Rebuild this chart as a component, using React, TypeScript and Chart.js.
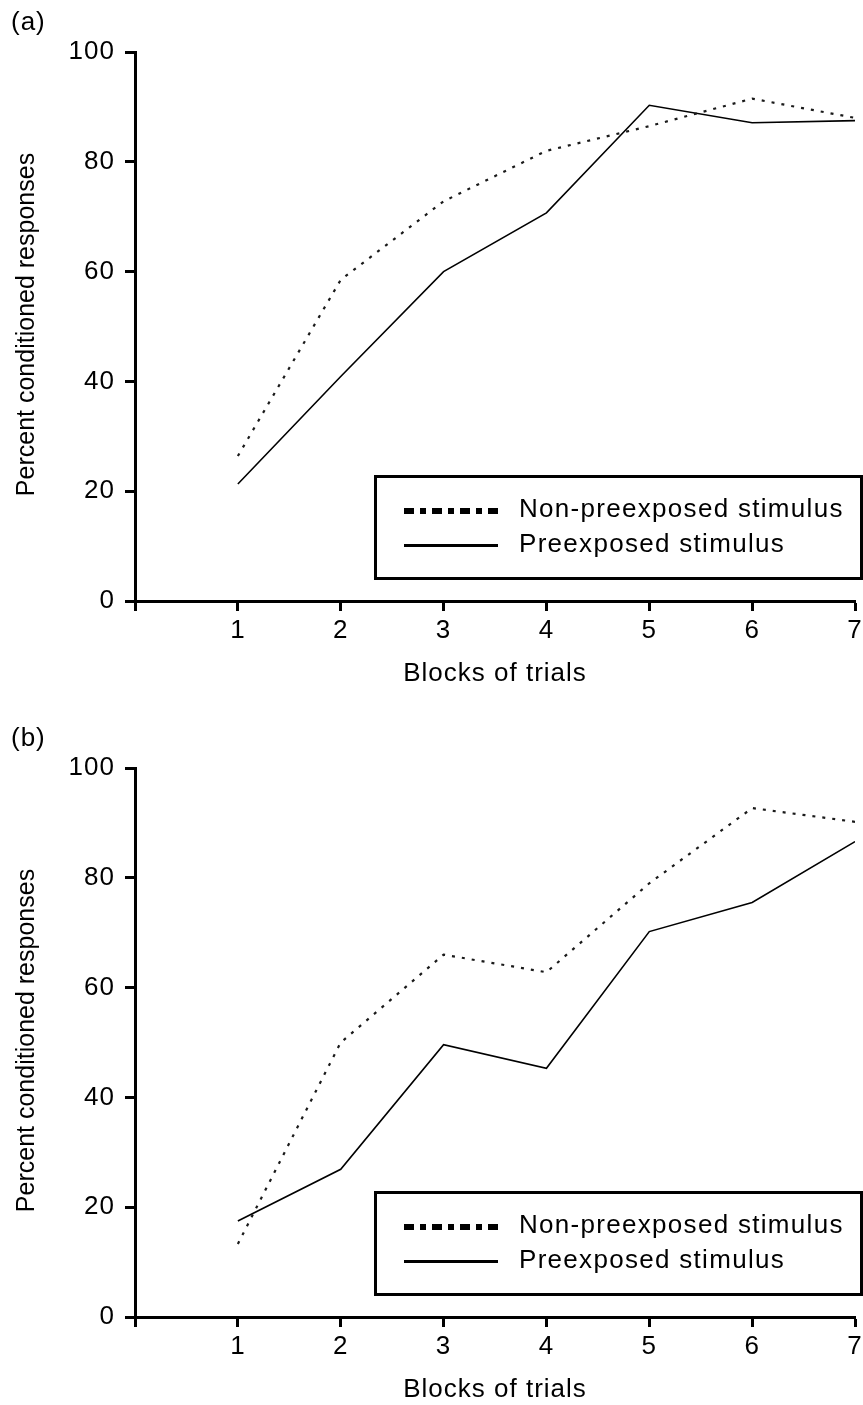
import React, { useEffect, useRef } from "react";
import { Chart, registerables } from "chart.js";

Chart.register(...registerables);

const FONT = '"Liberation Sans", Arial, Helvetica, sans-serif';

// ---- data ----
const blocks = [1, 2, 3, 4, 5, 6, 7];
const xTicks = [0, 1, 2, 3, 4, 5, 6, 7];
const yTicks = [0, 20, 40, 60, 80, 100];
const seriesNames = ["Non-preexposed stimulus", "Preexposed stimulus"];
const xTitle = "Blocks of trials";
const yTitle = "Percent conditioned responses";

const aNonPre = [26.4, 58.5, 72.8, 82.0, 86.5, 91.5, 88.0];
const aPre = [21.3, 40.9, 60.0, 70.7, 90.3, 87.1, 87.5];
const bNonPre = [13.3, 50.0, 66.0, 62.8, 79.0, 92.7, 90.2];
const bPre = [17.5, 26.9, 49.6, 45.3, 70.2, 75.5, 86.6];

type PanelProps = { top: number; tag: string; nonPre: number[]; pre: number[] };

function Panel({ top, tag, nonPre, pre }: PanelProps) {
  const ref = useRef<HTMLCanvasElement>(null);

  useEffect(() => {
    const canvas = ref.current!;
    const decor = {
      id: "decor",
      beforeLayout(chart: any) {
        chart.ctx.letterSpacing = "1px";
      },
      beforeDraw(chart: any) {
        chart.ctx.letterSpacing = "1px";
      },
      afterDraw(chart: any) {
        const ctx = chart.ctx as CanvasRenderingContext2D;
        const area = chart.chartArea;
        // panel tag
        ctx.save();
        (ctx as any).letterSpacing = "1px";
        ctx.fillStyle = "#000";
        ctx.font = `26px ${FONT}`;
        ctx.textAlign = "left";
        ctx.textBaseline = "middle";
        ctx.fillText(tag, 11, 23);
        ctx.restore();

        // y title
        ctx.save();
        (ctx as any).letterSpacing = "0px";
        ctx.fillStyle = "#000";
        ctx.font = `25px ${FONT}`;
        ctx.textAlign = "center";
        ctx.textBaseline = "middle";
        ctx.translate(27, (area.top + area.bottom) / 2 - 2);
        ctx.rotate(-Math.PI / 2);
        ctx.fillText(yTitle, 0, 0);
        ctx.restore();

        // legend box
        ctx.save();
        ctx.strokeStyle = "#000";
        ctx.lineWidth = 3;
        ctx.strokeRect(375.5, 476.5, 486, 102);
        // dotted sample
        ctx.lineWidth = 6;
        ctx.setLineDash([10, 6, 6, 6]);
        ctx.beginPath();
        ctx.moveTo(404, 511);
        ctx.lineTo(498, 511);
        ctx.stroke();
        // solid sample
        ctx.setLineDash([]);
        ctx.lineWidth = 3;
        ctx.beginPath();
        ctx.moveTo(404, 545.5);
        ctx.lineTo(498, 545.5);
        ctx.stroke();
        // texts
        (ctx as any).letterSpacing = "1.3px";
        ctx.fillStyle = "#000";
        ctx.font = `26px ${FONT}`;
        ctx.textAlign = "left";
        ctx.textBaseline = "middle";
        ctx.fillText(seriesNames[0], 519, 510);
        ctx.fillText(seriesNames[1], 519, 545);
        ctx.restore();
      },
    };

    const tickFont = { family: FONT, size: 26 };

    const chart = new Chart(canvas, {
      type: "line",
      data: {
        datasets: [
          {
            label: seriesNames[0],
            data: blocks.map((b, i) => ({ x: b, y: nonPre[i] })),
            borderColor: "#1a1a1a",
            borderWidth: 2.2,
            borderDash: [3, 7],
            pointRadius: 0,
            tension: 0,
            fill: false,
          },
          {
            label: seriesNames[1],
            data: blocks.map((b, i) => ({ x: b, y: pre[i] })),
            borderColor: "#000",
            borderWidth: 1.6,
            pointRadius: 0,
            tension: 0,
            fill: false,
          },
        ],
      },
      options: {
        animation: false,
        responsive: false,
        devicePixelRatio: 1,
        layout: { padding: { top: 52, right: 8, left: 0, bottom: 0 } },
        plugins: { legend: { display: false }, tooltip: { enabled: false } },
        scales: {
          x: {
            type: "linear",
            min: 0,
            max: 7,
            afterBuildTicks(scale: any) {
              scale.ticks = xTicks.map((v) => ({ value: v }));
            },
            ticks: {
              callback: (v: any) => (v === 0 ? "" : String(v)),
              font: tickFont,
              color: "#000",
              padding: 4,
              maxRotation: 0,
              autoSkip: false,
            },
            grid: {
              display: true,
              drawOnChartArea: false,
              drawTicks: true,
              tickLength: 10,
              tickWidth: 3,
              tickColor: "#000",
            },
            border: { display: true, width: 3, color: "#000" },
            title: {
              display: true,
              text: xTitle,
              font: { family: FONT, size: 26 },
              color: "#000",
              padding: { top: 0, bottom: 0 },
            },
            afterFit(s: any) {
              s.height = 88;
              s.paddingLeft = 0;
              s.paddingRight = 0;
            },
          },
          y: {
            min: 0,
            max: 100,
            afterBuildTicks(scale: any) {
              scale.ticks = yTicks.map((v) => ({ value: v }));
            },
            ticks: {
              font: tickFont,
              color: "#000",
              padding: 10,
            },
            grid: {
              display: true,
              drawOnChartArea: false,
              drawTicks: true,
              tickLength: 10,
              tickWidth: 3,
              tickColor: "#000",
            },
            border: { display: true, width: 3, color: "#000" },
            afterFit(s: any) {
              s.width = 135;
              s.paddingTop = 0;
              s.paddingBottom = 0;
            },
          },
        },
      } as any,
      plugins: [decor],
    });
    return () => chart.destroy();
  }, [tag, nonPre, pre]);

  return (
    <canvas
      ref={ref}
      width={863}
      height={689}
      style={{ position: "absolute", left: 0, top, width: 863, height: 689 }}
    />
  );
}

export default function App() {
  return (
    <div style={{ position: "absolute", left: 0, top: 0, width: 863, height: 1405, background: "#fff" }}>
      <Panel top={0} tag="(a)" nonPre={aNonPre} pre={aPre} />
      <Panel top={716} tag="(b)" nonPre={bNonPre} pre={bPre} />
    </div>
  );
}
